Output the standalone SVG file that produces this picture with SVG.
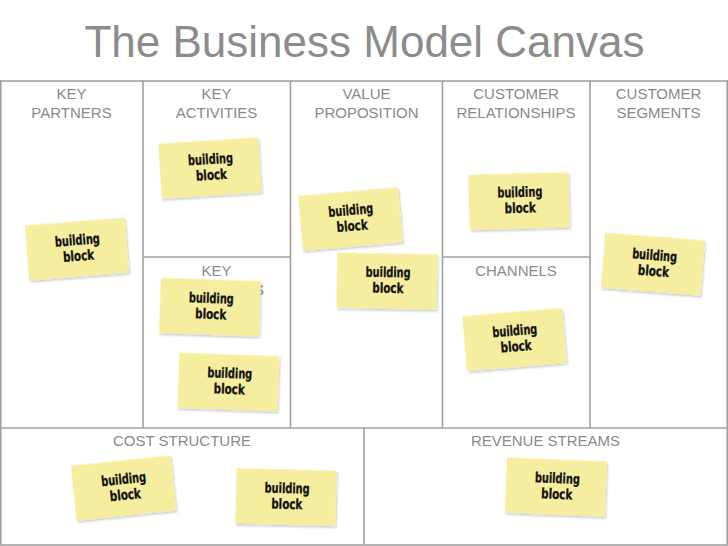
<svg xmlns="http://www.w3.org/2000/svg" width="728" height="546" viewBox="0 0 728 546">
<defs>
<style>
.title{font-family:"Liberation Sans",Arial,sans-serif;font-size:44px;fill:#8c8c8c;text-anchor:middle}
.hd{font-family:"Liberation Sans",Arial,sans-serif;font-size:15px;fill:#8a8a8a;text-anchor:middle}
.grid{fill:none;stroke:#a0a0a0;stroke-width:1.6}
.note rect{fill:#f5ee9f;filter:url(#sh)}
.note text{font-family:"DejaVu Sans Condensed","DejaVu Sans",sans-serif;font-weight:bold;font-size:14px;fill:#111;stroke:#111;stroke-width:0.3;text-anchor:middle}
</style>
<filter id="sh" x="-20%" y="-20%" width="140%" height="150%">
<feDropShadow dx="1" dy="2" stdDeviation="1.2" flood-color="#000" flood-opacity="0.22"/>
</filter>
</defs>
<rect width="728" height="546" fill="#fff"/>
<text class="title" x="364.5" y="57">The Business Model Canvas</text>
<g id="canvas-grid" class="grid">
<rect x="0.8" y="81" width="726.4" height="464"/>
<line x1="143" y1="81" x2="143" y2="428"/>
<line x1="290.5" y1="81" x2="290.5" y2="428"/>
<line x1="442.5" y1="81" x2="442.5" y2="428"/>
<line x1="590" y1="81" x2="590" y2="428"/>
<line x1="143" y1="257" x2="290.5" y2="257"/>
<line x1="442.5" y1="257" x2="590" y2="257"/>
<line x1="0" y1="428" x2="728" y2="428"/>
<line x1="364" y1="428" x2="364" y2="545"/>
</g>
<g id="headings">
<text class="hd" x="71.5" y="99">KEY</text>
<text class="hd" x="71.5" y="118">PARTNERS</text>
<text class="hd" x="216.5" y="99">KEY</text>
<text class="hd" x="216.5" y="118">ACTIVITIES</text>
<text class="hd" x="366.5" y="99">VALUE</text>
<text class="hd" x="366.5" y="118">PROPOSITION</text>
<text class="hd" x="516" y="99">CUSTOMER</text>
<text class="hd" x="516" y="118">RELATIONSHIPS</text>
<text class="hd" x="658.5" y="99">CUSTOMER</text>
<text class="hd" x="658.5" y="118">SEGMENTS</text>
<text class="hd" x="216.5" y="276">KEY</text>
<text class="hd" x="216.5" y="295">RESOURCES</text>
<text class="hd" x="516" y="276">CHANNELS</text>
<text class="hd" x="182" y="446">COST STRUCTURE</text>
<text class="hd" x="545.5" y="446">REVENUE STREAMS</text>
</g>
<g id="notes">
<g id="note-key-activities" class="note" transform="translate(210,168) rotate(-3.5)"><rect x="-50" y="-27.5" width="100" height="55"/><text x="1" y="-4" textLength="45" lengthAdjust="spacingAndGlyphs">building</text><text x="1" y="11.8" textLength="31" lengthAdjust="spacingAndGlyphs">block</text></g>
<g id="note-key-partners" class="note" transform="translate(77,249) rotate(-4.5)"><rect x="-50" y="-27.5" width="100" height="55"/><text x="1" y="-4" textLength="45" lengthAdjust="spacingAndGlyphs">building</text><text x="1" y="11.8" textLength="31" lengthAdjust="spacingAndGlyphs">block</text></g>
<g id="note-value-1" class="note" transform="translate(350.5,219) rotate(-5)"><rect x="-50" y="-27.5" width="100" height="55"/><text x="1" y="-4" textLength="45" lengthAdjust="spacingAndGlyphs">building</text><text x="1" y="11.8" textLength="31" lengthAdjust="spacingAndGlyphs">block</text></g>
<g id="note-relationships" class="note" transform="translate(519,201) rotate(-1.5)"><rect x="-50" y="-27.5" width="100" height="55"/><text x="1" y="-4" textLength="45" lengthAdjust="spacingAndGlyphs">building</text><text x="1" y="11.8" textLength="31" lengthAdjust="spacingAndGlyphs">block</text></g>
<g id="note-segments" class="note" transform="translate(653,264) rotate(4.5)"><rect x="-50" y="-27.5" width="100" height="55"/><text x="1" y="-4" textLength="45" lengthAdjust="spacingAndGlyphs">building</text><text x="1" y="11.8" textLength="31" lengthAdjust="spacingAndGlyphs">block</text></g>
<g id="note-value-2" class="note" transform="translate(387,281) rotate(1)"><rect x="-50" y="-27.5" width="100" height="55"/><text x="1" y="-4" textLength="45" lengthAdjust="spacingAndGlyphs">building</text><text x="1" y="11.8" textLength="31" lengthAdjust="spacingAndGlyphs">block</text></g>
<g id="note-resources-1" class="note" transform="translate(210,307) rotate(2)"><rect x="-50" y="-27.5" width="100" height="55"/><text x="1" y="-4" textLength="45" lengthAdjust="spacingAndGlyphs">building</text><text x="1" y="11.8" textLength="31" lengthAdjust="spacingAndGlyphs">block</text></g>
<g id="note-resources-2" class="note" transform="translate(228.5,382) rotate(2)"><rect x="-50" y="-27.5" width="100" height="55"/><text x="1" y="-4" textLength="45" lengthAdjust="spacingAndGlyphs">building</text><text x="1" y="11.8" textLength="31" lengthAdjust="spacingAndGlyphs">block</text></g>
<g id="note-channels" class="note" transform="translate(514.5,339.5) rotate(-4.8)"><rect x="-50" y="-27.5" width="100" height="55"/><text x="1" y="-4" textLength="45" lengthAdjust="spacingAndGlyphs">building</text><text x="1" y="11.8" textLength="31" lengthAdjust="spacingAndGlyphs">block</text></g>
<g id="note-cost-1" class="note" transform="translate(123.5,488) rotate(-6)"><rect x="-50" y="-27.5" width="100" height="55"/><text x="1" y="-4" textLength="45" lengthAdjust="spacingAndGlyphs">building</text><text x="1" y="11.8" textLength="31" lengthAdjust="spacingAndGlyphs">block</text></g>
<g id="note-cost-2" class="note" transform="translate(286,497) rotate(1.3)"><rect x="-50" y="-27.5" width="100" height="55"/><text x="1" y="-4" textLength="45" lengthAdjust="spacingAndGlyphs">building</text><text x="1" y="11.8" textLength="31" lengthAdjust="spacingAndGlyphs">block</text></g>
<g id="note-revenue" class="note" transform="translate(556,487) rotate(2.3)"><rect x="-50" y="-27.5" width="100" height="55"/><text x="1" y="-4" textLength="45" lengthAdjust="spacingAndGlyphs">building</text><text x="1" y="11.8" textLength="31" lengthAdjust="spacingAndGlyphs">block</text></g>
</g>
<g id="connectors"/>
</svg>
